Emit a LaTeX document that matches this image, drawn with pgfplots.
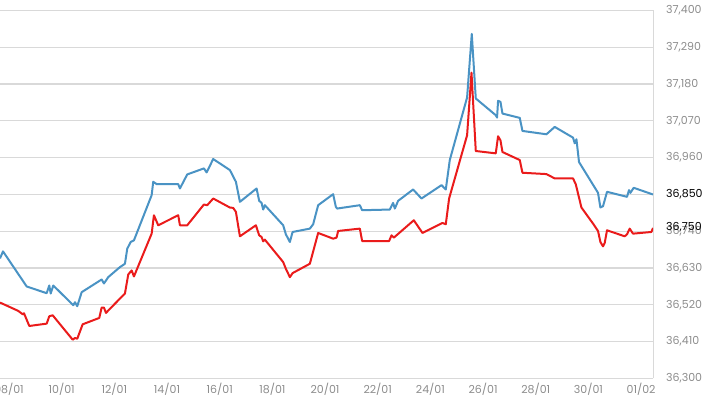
\documentclass[border=0pt]{standalone}
\usepackage{pgfplots}
\pgfplotsset{compat=1.18}
\usepackage{fontspec}
\setmainfont{Poppins}
\definecolor{blueline}{HTML}{4A93C4}
\definecolor{redline}{HTML}{EA1B1B}
\definecolor{gridc}{HTML}{D9D9D9}
\definecolor{labc}{HTML}{8C8C8C}
\begin{document}
\begin{tikzpicture}
\path[use as bounding box] (0pt,-20.5pt) rectangle (710pt,378.5pt);
\begin{axis}[
  at={(0pt,0pt)}, anchor=south west,
  scale only axis, width=653pt, height=368pt,
  xmin=7.658, xmax=32.452, ymin=36300, ymax=37400,
  axis x line*=bottom, axis y line*=right,
  axis line style={draw=gridc, line width=1pt, -},
  ymajorgrids, grid style={draw=gridc, line width=1.2pt},
  ytick={36300,36410,36520,36630,36740,36850,36960,37070,37180,37290,37400},
  xtick={8,10,12,14,16,18,20,22,24,26,28,30,32},
  xticklabels={08/01,10/01,12/01,14/01,16/01,18/01,20/01,22/01,24/01,26/01,28/01,30/01,01/02},
  scaled y ticks=false,
  major tick length=0pt,
  yticklabel={\pgfmathprintnumber[fixed,precision=0,1000 sep={,},assume math mode=true]{\tick}},
  ticklabel style={font=\fontsize{11}{12}\selectfont, text=labc},
  yticklabel style={anchor=west, inner sep=0pt, xshift=13pt},
  xticklabel style={anchor=north, inner sep=0pt, yshift=-4pt},
  clip=true,
]
\addplot[blueline, line width=2pt, line join=round] coordinates {
(7.658,36659)(7.772,36680)(8.672,36575)(9.431,36555)(9.529,36578)(9.583,36554)(9.681,36578)(10.440,36519)(10.505,36528)(10.592,36516)(10.759,36558)(11.518,36596)(11.605,36584)(11.768,36603)(12.213,36633)(12.402,36643)(12.490,36688)(12.619,36708)(12.744,36713)(13.416,36848)(13.476,36888)(13.605,36881)(14.425,36881)(14.490,36868)(14.767,36910)(15.400,36928)(15.503,36916)(15.753,36956)(16.387,36923)(16.452,36913)(16.615,36888)(16.767,36828)(17.400,36868)(17.499,36831)(17.590,36825)(17.651,36805)(17.715,36818)(18.410,36758)(18.512,36731)(18.664,36708)(18.767,36738)(19.423,36748)(19.548,36761)(19.738,36818)(20.307,36851)(20.410,36813)(20.459,36808)(21.321,36818)(21.408,36803)(22.459,36805)(22.584,36825)(22.649,36808)(22.774,36831)(23.343,36865)(23.662,36838)(24.421,36878)(24.584,36865)(24.736,36953)(25.393,37140)(25.571,37330)(25.723,37137)(26.482,37087)(26.531,37080)(26.569,37130)(26.660,37127)(26.736,37092)(27.393,37079)(27.495,37040)(28.406,37030)(28.721,37052)(29.415,37020)(29.480,37003)(29.545,37015)(29.643,36947)(30.364,36855)(30.455,36811)(30.554,36815)(30.706,36858)(31.465,36843)(31.541,36863)(31.594,36855)(31.720,36870)(32.452,36850)
};
\addplot[redline, line width=2pt, line join=round] coordinates {
(7.658,36527)(8.353,36502)(8.520,36492)(8.569,36495)(8.770,36457)(9.431,36464)(9.529,36486)(9.658,36489)(10.417,36416)(10.505,36421)(10.592,36419)(10.797,36462)(11.427,36481)(11.518,36512)(11.605,36512)(11.681,36496)(12.213,36539)(12.402,36554)(12.528,36611)(12.657,36623)(12.744,36605)(13.416,36733)(13.503,36788)(13.666,36758)(14.425,36788)(14.490,36758)(14.767,36758)(15.400,36820)(15.526,36818)(15.753,36838)(16.387,36811)(16.512,36810)(16.615,36798)(16.767,36725)(17.374,36758)(17.499,36728)(17.590,36723)(17.651,36710)(17.715,36715)(18.410,36648)(18.512,36628)(18.664,36603)(18.767,36615)(19.423,36643)(19.738,36735)(20.307,36718)(20.436,36721)(20.497,36741)(21.321,36748)(21.408,36711)(22.433,36711)(22.524,36728)(22.611,36721)(23.370,36773)(23.700,36735)(24.459,36765)(24.584,36761)(24.710,36838)(25.393,37027)(25.560,37214)(25.723,36980)(26.482,36973)(26.569,37024)(26.660,37012)(26.736,36977)(27.393,36953)(27.495,36915)(28.406,36911)(28.721,36898)(29.415,36898)(29.518,36881)(29.735,36811)(30.175,36763)(30.364,36741)(30.455,36708)(30.554,36695)(30.618,36705)(30.706,36743)(31.378,36725)(31.465,36731)(31.568,36748)(31.693,36733)(32.391,36738)(32.452,36750)
};
\end{axis}
\node[anchor=west, inner sep=0.5pt, fill=white, font=\fontsize{11}{12}\selectfont, text=black] at (665.5pt,184pt) {36,850};
\node[anchor=west, inner sep=0pt, font=\fontsize{11}{12}\selectfont, text=black] at (666pt,150.8pt) {36,750};
\end{tikzpicture}
\end{document}
